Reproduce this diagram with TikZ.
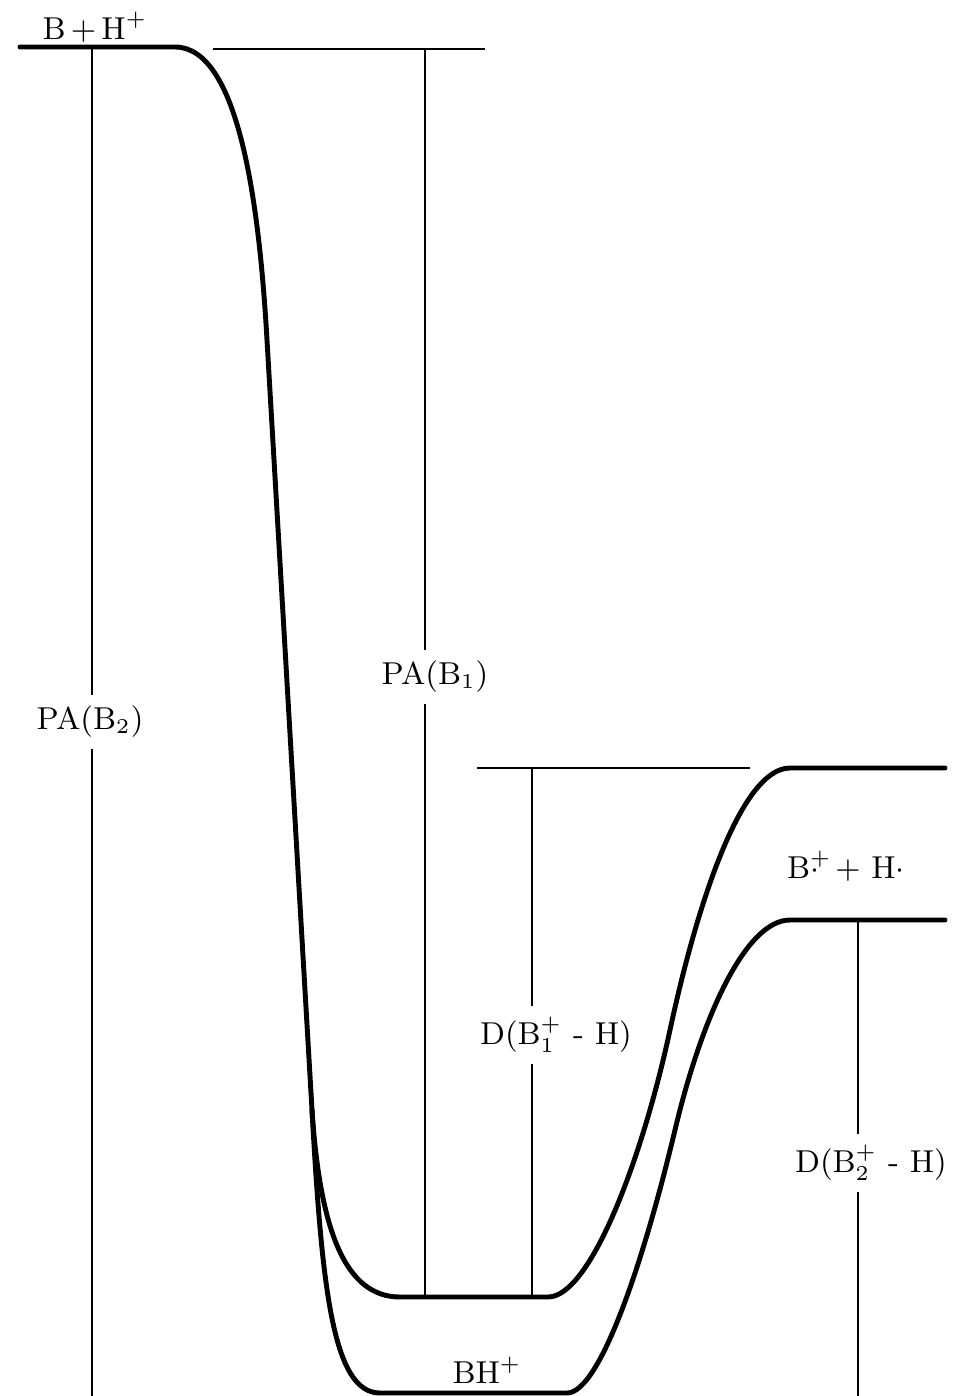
\documentclass[tikz,border=0pt]{standalone}
\usepackage{amsmath}
\usepackage{tikz}
\usetikzlibrary{positioning}
\tikzset{
  pes/.style ={line width=1.4pt, line cap=round, line join=round},
  lev/.style ={line width=0.6pt},
  lbl/.style ={font=\fontsize{9}{11}\selectfont, inner sep=1pt},
  cut/.style ={lbl, inner sep=3pt},
}

\begin{document}
\begin{tikzpicture}[x=0.01cm, y=-0.01cm]
  \useasboundingbox (0,0) rectangle (953,1396);
  % potential curves (B + H+ down into the two BH+ wells)
  \draw[pes] (20,47) -- (175,47) .. controls (238,47) and (259,200) .. (267,340)
     -- (312,1110) .. controls (320,1230) and (345,1297) .. (400,1297) -- (548,1297)
     .. controls (590,1297) and (642,1160) .. (670,1030)
     .. controls (698,900) and (742,768) .. (790,768) -- (945,768);
  \draw[pes] (312,1110) .. controls (322,1290) and (333,1393) .. (380,1393) -- (567,1393)
     .. controls (600,1393) and (644,1260) .. (675,1130)
     .. controls (701,1020) and (745,920) .. (790,920) -- (945,920);
  % levels
  \coordinate (topL) at (213,49); \coordinate (topR) at (485,49);
  \coordinate (midL) at (477,768); \coordinate (midR) at (750,768);
  \draw[lev] (topL) -- (topR);
  \draw[lev] (midL) -- (midR);
  % labels
  \node[lbl] (react) at (95,27) {B\,{\small +}\,H$^{+}$};
  \node[lbl] (prod) at (846,866) {B\rlap{$^{+}$}$\cdot$\ \,+ H$\cdot$};
  \node[lbl] (bh) at (487,1370) {BH$^{+}$};
  % gaps
  \coordinate (pa2top) at (92,47);   \coordinate (pa2bot) at (92,1396);
  \coordinate (pa1top) at (425,49);  \coordinate (pa1bot) at (425,1297);
  \coordinate (db1top) at (532,768); \coordinate (db1bot) at (532,1297);
  \coordinate (db2top) at (858,920); \coordinate (db2bot) at (858,1396);
  \node[cut] (pa2) at (90,722) {PA(B$_2$)};
  \node[cut] (pa1) at (435,677) {PA(B$_1$)};
  \node[cut] (db1) at (556,1035) {D(B$_1^{+}$ - H)};
  \node[cut] (db2) at (871,1163) {D(B$_2^{+}$ - H)};
  \draw[lev] (pa2top) -- (pa2top |- pa2.north); \draw[lev] (pa2.south -| pa2bot) -- (pa2bot);
  \draw[lev] (pa1top) -- (pa1top |- pa1.north); \draw[lev] (pa1.south -| pa1bot) -- (pa1bot);
  \draw[lev] (db1top) -- (db1top |- db1.north); \draw[lev] (db1.south -| db1bot) -- (db1bot);
  \draw[lev] (db2top) -- (db2top |- db2.north); \draw[lev] (db2.south -| db2bot) -- (db2bot);
\end{tikzpicture}
\end{document}
